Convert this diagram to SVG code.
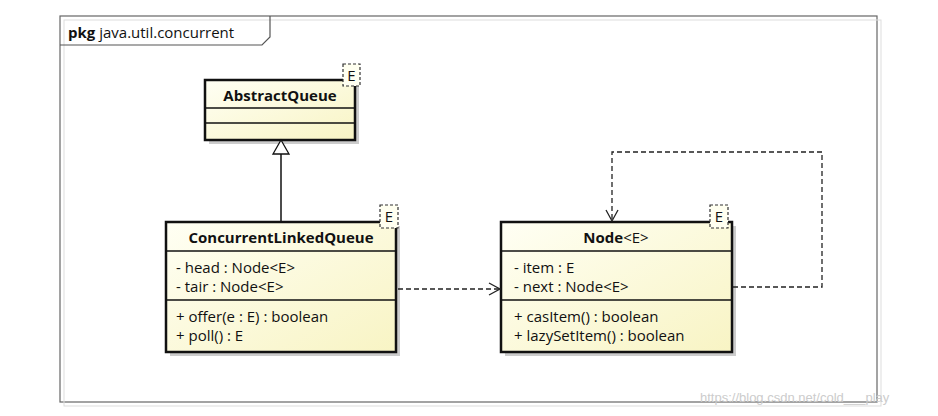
<svg xmlns="http://www.w3.org/2000/svg" width="938" height="416" viewBox="0 0 938 416">
<defs>
<linearGradient id="g" x1="0" y1="0" x2="1" y2="1"><stop offset="0" stop-color="#fffff4"/><stop offset="1" stop-color="#f8f4c4"/></linearGradient>
<marker id="open" markerWidth="14" markerHeight="14" refX="12" refY="7" orient="auto" markerUnits="userSpaceOnUse"><path d="M1,1 L12,7 L1,13" fill="none" stroke="#222" stroke-width="1.3"/></marker>
</defs>
<style>
.cls{fill:url(#g);stroke:#111;stroke-width:2.5}
.sep{stroke:#111;stroke-width:1.3}
.t{font-family:"Open Sans","DejaVu Sans",sans-serif;font-size:15px;fill:#111}
.b{font-weight:bold}
.tpl{fill:#fffff0;stroke:#333;stroke-width:1.2;stroke-dasharray:3,2}
.sh{fill:#ccc}
.dash{fill:none;stroke:#222;stroke-width:1.3;stroke-dasharray:5,3}
</style>
<rect width="938" height="416" fill="#fff"/>
<g id="package">
<rect x="60" y="16" width="817" height="386" fill="none" stroke="#666" stroke-width="1.2"/>
<rect x="64" y="20" width="817" height="386" fill="none" stroke="#ddd" stroke-width="1"/>
<path d="M60,45 L262,45 L270,37 L270,16" fill="none" stroke="#555" stroke-width="1.2"/>
<text x="68" y="38" class="t" font-size="16"><tspan class="b">pkg</tspan> java.util.concurrent</text>
</g>
<g id="AbstractQueue">
<rect x="209" y="84" width="150" height="60" class="sh"/>
<rect x="205" y="80" width="150" height="60" class="cls"/>
<line x1="205" y1="108" x2="355" y2="108" class="sep"/>
<line x1="205" y1="123" x2="355" y2="123" class="sep"/>
<text x="280" y="101" class="t b" text-anchor="middle">AbstractQueue</text>
<rect x="343" y="64" width="17" height="22" class="tpl"/>
<text x="351.5" y="81" class="t" text-anchor="middle">E</text>
</g>
<g id="ConcurrentLinkedQueue">
<rect x="170" y="226" width="230" height="130" class="sh"/>
<rect x="166" y="222" width="230" height="130" class="cls"/>
<line x1="166" y1="251" x2="396" y2="251" class="sep"/>
<line x1="166" y1="300" x2="396" y2="300" class="sep"/>
<text x="281" y="243" class="t b" text-anchor="middle">ConcurrentLinkedQueue</text>
<text x="176" y="273" class="t">- head : Node&lt;E&gt;</text>
<text x="176" y="292" class="t">- tair : Node&lt;E&gt;</text>
<text x="176" y="322" class="t">+ offer(e : E) : boolean</text>
<text x="176" y="341" class="t">+ poll() : E</text>
<rect x="380" y="205" width="18" height="23" class="tpl"/>
<text x="389" y="222" class="t" text-anchor="middle">E</text>
</g>
<g id="Node">
<rect x="505" y="226" width="231" height="130" class="sh"/>
<rect x="501" y="222" width="231" height="130" class="cls"/>
<line x1="501" y1="251" x2="732" y2="251" class="sep"/>
<line x1="501" y1="300" x2="732" y2="300" class="sep"/>
<text x="616" y="243" class="t b" text-anchor="middle">Node<tspan font-weight="normal">&lt;E&gt;</tspan></text>
<text x="514" y="273" class="t">- item : E</text>
<text x="514" y="292" class="t">- next : Node&lt;E&gt;</text>
<text x="514" y="322" class="t">+ casItem() : boolean</text>
<text x="514" y="341" class="t">+ lazySetItem() : boolean</text>
<rect x="710" y="205" width="18" height="23" class="tpl"/>
<text x="719" y="222" class="t" text-anchor="middle">E</text>
</g>
<g id="connectors">
<line x1="281" y1="221" x2="281" y2="154" stroke="#111" stroke-width="1.5"/>
<path d="M281,140 L273,154 L289,154 Z" fill="#fff" stroke="#111" stroke-width="1.3"/>
<path d="M398,289 L500,289" class="dash" marker-end="url(#open)"/>
<path d="M733,287 L822,287 L822,152 L612,152 L612,221" class="dash" marker-end="url(#open)"/>
</g>
<text x="700" y="402" font-family="Liberation Sans,sans-serif" font-size="13" fill="#ccc">https://blog.csdn.net/cold___play</text>
</svg>
